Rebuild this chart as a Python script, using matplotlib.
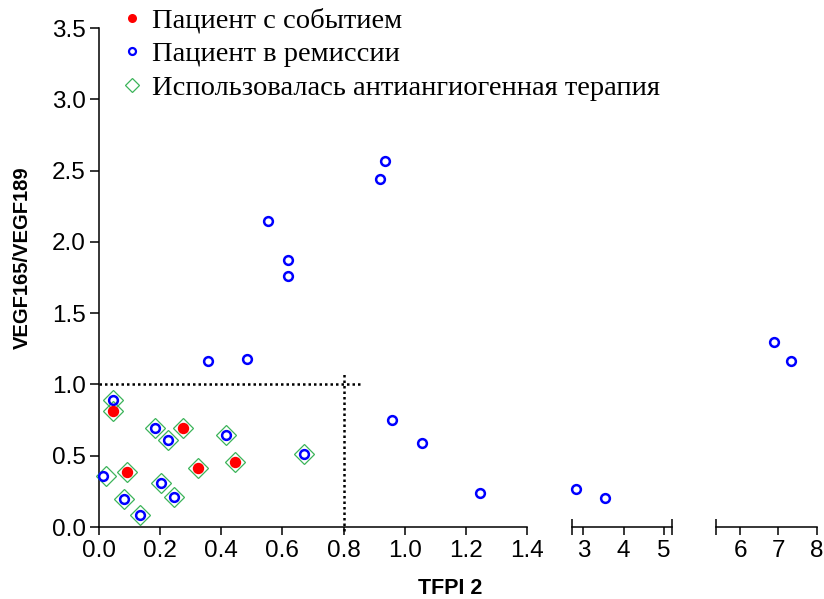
import numpy as np
import matplotlib
matplotlib.use("Agg")
import matplotlib.pyplot as plt
from matplotlib.lines import Line2D

# values
event_x = [0.045, 0.093, 0.275, 0.325, 0.446]
event_y = [0.815, 0.384, 0.694, 0.416, 0.458]

remission_x = [0.014, 0.045, 0.082, 0.134, 0.183, 0.225, 0.204, 0.244, 0.416, 0.671,
               0.355, 0.484, 0.554, 0.617, 0.617, 0.918, 0.937, 0.958, 1.056, 1.247,
               2.82, 3.54, 6.89, 7.33]
remission_y = [0.36, 0.89, 0.196, 0.082, 0.692, 0.61, 0.311, 0.213, 0.645, 0.51,
               1.162, 1.18, 2.146, 1.87, 1.762, 2.44, 2.567, 0.748, 0.587, 0.236,
               0.27, 0.205, 1.30, 1.166]

therapy_x = [0.022, 0.045, 0.045, 0.093, 0.082, 0.134, 0.183, 0.225, 0.275, 0.204,
             0.244, 0.325, 0.416, 0.446, 0.671]
therapy_y = [0.36, 0.89, 0.815, 0.384, 0.196, 0.082, 0.692, 0.61, 0.694, 0.311,
             0.213, 0.416, 0.645, 0.458, 0.51]

labels = ['Пациент с событием', 'Пациент в ремиссии', 'Использовалась антиангиогенная терапия']

cut_x = 0.8
cut_y = 1.0

# broken x axis: three pieces
segments = [(0.0, 1.4), (2.71, 5.21), (5.365, 8.0)]
seg_ticks = [np.arange(0, 1.41, 0.2), [3, 4, 5], [6, 7, 8]]
seg_fmt = ['{:.1f}', '{:.0f}', '{:.0f}']

W, H = 824, 599
fig = plt.figure(figsize=(W / 100, H / 100), dpi=100)
plt.rcParams['font.family'] = ['Liberation Sans', 'DejaVu Sans']

y0_px, y1_px = 527, 28
seg_px = [(99, 527), (571.7, 672.3), (715.7, 816.7)]

RED = '#ff0000'
BLUE = '#0000ff'
GREEN = '#3cb45a'

axes = []
for i, ((lo, hi), (p0, p1)) in enumerate(zip(segments, seg_px)):
    ax = fig.add_axes([p0 / W, 1 - y0_px / H, (p1 - p0) / W, (y0_px - y1_px) / H])
    ax.set_xlim(lo, hi)
    ax.set_ylim(0, 3.5)
    for s in ['top', 'right']:
        ax.spines[s].set_visible(False)
    ax.spines['bottom'].set_linewidth(1.1)
    ax.set_xticks(seg_ticks[i])
    ax.set_xticklabels([seg_fmt[i].format(t) for t in seg_ticks[i]], fontsize=17.5)
    ax.tick_params(axis='x', which='major', direction='out', length=6, width=1.1, pad=3.5)
    # end caps of each axis piece
    caps = [hi] if i == 0 else [lo, hi]
    ax.set_xticks(caps, minor=True)
    ax.tick_params(axis='x', which='minor', direction='inout', length=12, width=1.1)
    if i == 0:
        ax.spines['left'].set_linewidth(1.1)
        ax.set_yticks(np.arange(0, 3.51, 0.5))
        ax.set_yticklabels(['{:.1f}'.format(v) for v in np.arange(0, 3.51, 0.5)], fontsize=17.5)
        ax.tick_params(axis='y', direction='out', length=6.5, width=1.1, pad=3)
    else:
        ax.spines['left'].set_visible(False)
        ax.set_yticks([])
    ax.patch.set_alpha(0)

    def pick(xs, ys):
        xs, ys = np.asarray(xs), np.asarray(ys)
        m = (xs >= lo) & (xs <= hi)
        return xs[m], ys[m]

    tx, ty = pick(therapy_x, therapy_y)
    ax.plot(tx, ty, 'D', ms=10, mfc='none', mec=GREEN, mew=0.9, clip_on=False, zorder=3)
    rx, ry = pick(remission_x, remission_y)
    ax.plot(rx, ry, 'o', ms=6.3, mfc='none', mec=BLUE, mew=1.8, clip_on=False, zorder=4)
    ex, ey = pick(event_x, event_y)
    ax.plot(ex, ey, 'o', ms=8.2, mfc=RED, mec=RED, mew=0, clip_on=False, zorder=4)
    axes.append(ax)

ax1 = axes[0]
# cut-off lines
ax1.plot([0, cut_x + 0.062], [cut_y, cut_y], color='black', lw=1.8,
         linestyle=(0, (1, 1.2)), clip_on=False, zorder=2)
ax1.plot([cut_x, cut_x], [-0.03, cut_y + 0.075], color='black', lw=1.8,
         linestyle=(0, (1, 1.2)), clip_on=False, zorder=2)

handles = [
    Line2D([], [], ls='none', marker='o', ms=6.5, mfc=RED, mec=RED, mew=0),
    Line2D([], [], ls='none', marker='o', ms=5, mfc='none', mec=BLUE, mew=1.6),
    Line2D([], [], ls='none', marker='D', ms=7.5, mfc='none', mec=GREEN, mew=0.9),
]
fig.legend(handles, labels, loc='upper left', bbox_to_anchor=(122 / W, 1 - 8 / H),
           frameon=False, handlelength=0.7, handletextpad=0.35, labelspacing=0.26,
           borderaxespad=0, borderpad=0,
           prop={'family': 'Liberation Serif', 'size': 20.5})

fig.text(450 / W, 1 - 589 / H, 'TFPI 2', ha='center', va='center',
         fontsize=15.5, fontweight='bold')
fig.text(22 / W, 1 - 258 / H, 'VEGF165/VEGF189', ha='center', va='center',
         rotation=90, fontsize=14.5, fontweight='bold')

fig.savefig('out.png', dpi=100)
